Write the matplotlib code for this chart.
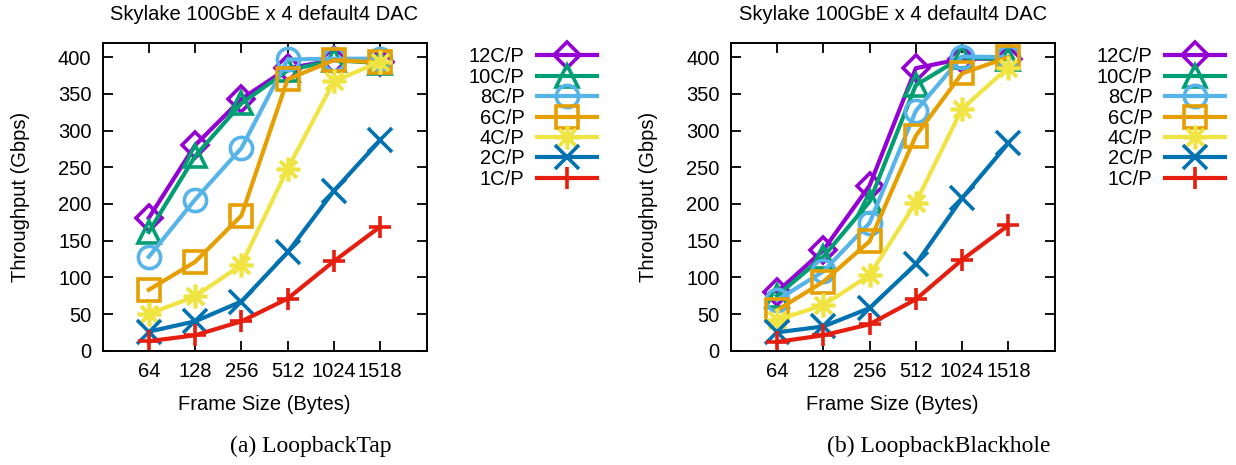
import numpy as np
import matplotlib
matplotlib.use("Agg")
import matplotlib.pyplot as plt

plt.rcParams["font.family"] = ["Liberation Sans", "DejaVu Sans"]
plt.rcParams["font.size"] = 14.5

# %%
# Data
frame_sizes = ["64", "128", "256", "512", "1024", "1518"]
series_labels = ["12C/P", "10C/P", "8C/P", "6C/P", "4C/P", "2C/P", "1C/P"]

tap_12 = [181, 280, 343, 385, 396, 394]
tap_10 = [162, 265, 337, 382, 396, 392]
tap_8 = [128, 206, 276, 397, 398, 398]
tap_6 = [83, 121, 184, 370, 396, 393]
tap_4 = [50, 74, 117, 248, 367, 394]
tap_2 = [26, 40, 67, 134, 218, 287]
tap_1 = [13, 21, 40, 71, 122, 169]

bh_12 = [80, 137, 225, 385, 398, 398]
bh_10 = [75, 128, 203, 362, 400, 397]
bh_8 = [69, 108, 174, 327, 401, 400]
bh_6 = [55, 94, 149, 293, 378, 400]
bh_4 = [42, 62, 103, 202, 330, 386]
bh_2 = [25, 33, 58, 118, 208, 283]
bh_1 = [12, 21, 36, 70, 124, 171]

tap = [tap_12, tap_10, tap_8, tap_6, tap_4, tap_2, tap_1]
blackhole = [bh_12, bh_10, bh_8, bh_6, bh_4, bh_2, bh_1]

# gnuplot default palette and point types
colors = ["#9400D3", "#009E73", "#56B4E9", "#E69F00", "#F0E442", "#0072B2", "#E51E10"]
markers = ["D", "^", "o", "s", (8, 2, 0), "x", "+"]
msizes = [13, 16, 16, 16, 17, 17, 16]

title = "Skylake 100GbE x 4 default4 DAC"

fig = plt.figure(figsize=(12.36, 4.65), dpi=100)
axw, axh = 324 / 1236, 307.4 / 465
bottom = (465 - 350.7) / 465
axes = [fig.add_axes([102.5 / 1236, bottom, axw, axh]),
        fig.add_axes([730.7 / 1236, bottom, axw, axh])]
legend_right = [597 / 1236, 1225 / 1236]
captions = ["(a) LoopbackTap", "(b) LoopbackBlackhole"]
caption_x = [311 / 1236, 939 / 1236]

xpos = np.arange(1, len(frame_sizes) + 1)
for ax, data, lr, cap, cx in zip(axes, [tap, blackhole], legend_right, captions, caption_x):
    for vals, lab, c, m, ms in zip(data, series_labels, colors, markers, msizes):
        ax.plot(xpos, vals, color=c, lw=3, marker=m, ms=ms, mew=2.6,
                mfc="none", mec=c, label=lab)
    ax.set_xlim(0, 7)
    ax.set_ylim(0, 419)
    ax.set_xticks(xpos)
    ax.set_xticklabels(frame_sizes)
    ax.set_yticks(np.arange(0, 401, 50))
    ax.tick_params(direction="in", length=7, width=1.3, top=True, right=True, pad=8)
    for s in ax.spines.values():
        s.set_linewidth(1.4)
    ax.set_title(title, fontsize=14.5, pad=17)
    ax.set_ylabel("Throughput (Gbps)")
    ax.set_xlabel("Frame Size (Bytes)")
    ax.yaxis.set_label_coords(-0.225, 0.5)
    ax.xaxis.set_label_coords(0.5, -0.145)
    leg = ax.legend(loc="upper right", bbox_to_anchor=(lr, 0.898),
                    bbox_transform=fig.transFigure, markerfirst=False,
                    frameon=False, handlelength=3.0, handletextpad=0.6,
                    labelspacing=0.07, borderpad=0, borderaxespad=0)
    for col in leg._legend_handle_box.get_children():
        col.align = "right"
    fig.text(cx, (465 - 446) / 465, cap, ha="center", va="center",
             family="Liberation Serif", fontsize=17)

fig.savefig("out.png", dpi=100)
